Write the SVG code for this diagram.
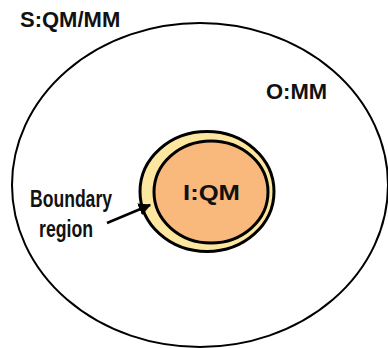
<svg xmlns="http://www.w3.org/2000/svg" width="388" height="348" viewBox="0 0 388 348">
  <style>
    .lbl { font-family: "Liberation Sans", Arial, sans-serif; font-weight: bold; font-size: 22px; fill: #111; }
    .nar { font-family: "Liberation Sans", Arial, sans-serif; font-weight: bold; font-size: 24px; fill: #111; }
  </style>
  <defs>
    <marker id="ah" viewBox="0 0 10 10" refX="9" refY="5" markerWidth="5" markerHeight="5" orient="auto" markerUnits="strokeWidth">
      <path d="M0,0 L10,5 L0,10 z" fill="#000"/>
    </marker>
  </defs>
  <rect width="388" height="348" fill="#fff"/>
  <g id="system">
    <ellipse cx="200" cy="185" rx="188" ry="162" fill="none" stroke="#000" stroke-width="2"/>
    <text class="lbl" x="20" y="27">S:QM/MM</text>
  </g>
  <g id="outer">
    <text class="lbl" x="266" y="99">O:MM</text>
  </g>
  <g id="boundary">
    <ellipse cx="207" cy="191.5" rx="67" ry="60" fill="#FDE7A0" stroke="#000" stroke-width="3"/>
  </g>
  <g id="inner">
    <ellipse cx="211" cy="192" rx="57" ry="51" fill="#F9B87C" stroke="#000" stroke-width="3"/>
    <text class="lbl" x="183" y="200" font-size="23" textLength="57" lengthAdjust="spacingAndGlyphs">I:QM</text>
  </g>
  <g id="boundary-label">
    <text class="nar" x="30" y="207" textLength="82" lengthAdjust="spacingAndGlyphs">Boundary</text>
    <text class="nar" x="39" y="237" textLength="54" lengthAdjust="spacingAndGlyphs">region</text>
  </g>
  <g id="connectors">
    <line x1="107" y1="223" x2="150" y2="205" stroke="#000" stroke-width="2.5" marker-end="url(#ah)"/>
  </g>
</svg>
